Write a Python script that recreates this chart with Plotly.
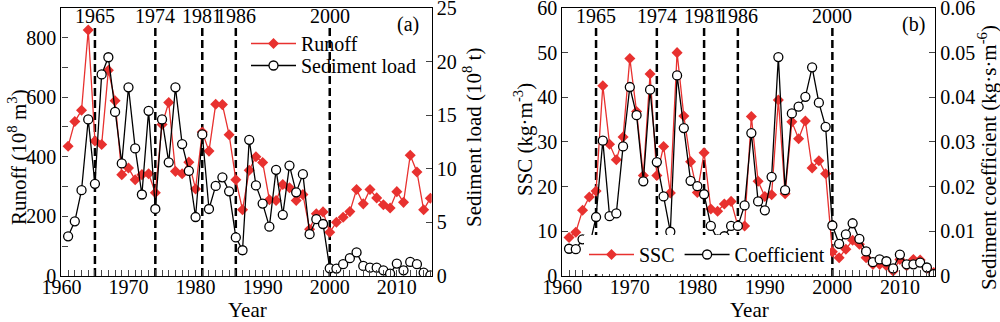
import plotly.graph_objects as go

years = list(range(1961, 2016))

runoff = [435, 518, 556, 825, 453, 441, 690, 588, 340, 362,
          323, 340, 343, 279, 508, 582, 351, 343, 382, 292,
          483, 419, 576, 575, 474, 323, 222, 355, 400, 381,
          256, 253, 307, 296, 253, 273, 157, 209, 215, 147,
          180, 197, 216, 290, 242, 290, 262, 239, 228, 283,
          247, 405, 349, 222, 261]

sediment = [3.7, 5.1, 8.0, 14.6, 8.6, 18.8, 20.4, 15.3, 10.5, 17.6,
            11.9, 7.6, 15.4, 6.25, 14.6, 10.6, 17.6, 12.3, 9.8, 5.5,
            13.2, 6.25, 8.4, 9.2, 7.9, 3.6, 2.4, 12.7, 8.45, 6.75,
            4.6, 9.9, 5.7, 10.3, 7.8, 9.5, 3.9, 5.3, 4.85, 0.72,
            0.69, 1.1, 1.66, 2.2, 0.94, 0.78, 0.78, 0.53, 0.22, 1.16,
            0.53, 1.31, 1.1, 0.31, 0.06]

ssc = [8.6, 9.8, 14.7, 17.7, 19.0, 42.6, 29.5, 26.0, 31.1, 48.7,
       36.8, 22.5, 45.2, 22.5, 29.0, 18.6, 50.0, 35.8, 25.6, 18.7,
       27.6, 15.0, 14.5, 16.1, 16.7, 11.2, 11.2, 35.7, 21.2, 17.8,
       18.2, 39.4, 18.4, 34.5, 30.7, 34.7, 24.2, 25.8, 22.9, 5.4,
       4.1, 6.0, 8.0, 7.1, 4.1, 2.6, 2.6, 2.3, 1.1, 3.7,
       2.3, 3.7, 3.6, 1.7, 0.8]

coefficient = [0.0061, 0.0060, 0.0082, 0.0065, 0.0132, 0.0303, 0.0134, 0.0140, 0.0290, 0.0423,
               0.0360, 0.0212, 0.0417, 0.0255, 0.0178, 0.0099, 0.0449, 0.0331, 0.0213, 0.0201,
               0.0183, 0.0112, 0.0082, 0.0089, 0.0112, 0.0112, 0.0158, 0.0320, 0.0167, 0.0147,
               0.0222, 0.0490, 0.0192, 0.0364, 0.0379, 0.0401, 0.0467, 0.0388, 0.0334, 0.0113,
               0.0072, 0.0093, 0.0118, 0.0083, 0.0055, 0.0031, 0.0037, 0.0033, 0.0017, 0.0048,
               0.0026, 0.0026, 0.0030, 0.0019, 0.0004]

break_years = [1965, 1974, 1981, 1986, 2000]

runoff_ticks = [0, 200, 400, 600, 800]
sediment_ticks = [0, 5, 10, 15, 20, 25]
ssc_ticks = [0, 10, 20, 30, 40, 50, 60]
coef_ticks = [0, 0.01, 0.02, 0.03, 0.04, 0.05, 0.06]
coef_labels = ["0", "0.01", "0.02", "0.03", "0.04", "0.05", "0.06"]

FONT = "Liberation Serif"
RED = "#e8312f"
FS = 20
TFS = 21

fig = go.Figure()

red_line = dict(color=RED, width=1.3)
red_marker = dict(symbol="diamond", size=8.5, color=RED, line=dict(width=0))
blk_line = dict(color="black", width=1.3)
blk_marker = dict(symbol="circle", size=9, color="white", line=dict(color="black", width=1.3))

fig.add_trace(go.Scatter(x=years, y=runoff, name="Runoff", mode="lines+markers",
                         line=red_line, marker=red_marker, xaxis="x", yaxis="y", legend="legend"))
fig.add_trace(go.Scatter(x=years, y=sediment, name="Sediment load", mode="lines+markers",
                         line=blk_line, marker=blk_marker, xaxis="x", yaxis="y2", legend="legend3"))
fig.add_trace(go.Scatter(x=years, y=ssc, name="SSC", mode="lines+markers",
                         line=red_line, marker=red_marker, xaxis="x2", yaxis="y3", legend="legend2"))
fig.add_trace(go.Scatter(x=years, y=coefficient, name="Coefficient", mode="lines+markers",
                         line=blk_line, marker=blk_marker, xaxis="x2", yaxis="y4", legend="legend2"))

ydom = [0.1429, 0.976]
dom_a = [0.0614, 0.4317]
dom_b = [0.5623, 0.935]

common_x = dict(range=[1960, 2015.2], dtick=10, tick0=1960, ticks="inside", ticklen=6,
                tickwidth=1.2, showline=True, linecolor="black", linewidth=1.3, mirror=True,
                showgrid=False, zeroline=False, tickfont=dict(family=FONT, size=FS, color="black"),
                minor=dict(dtick=1, tick0=1960, ticks="inside", ticklen=6, tickwidth=1.2, showgrid=False),
                ticklabelstandoff=-7, ticklabeloverflow="allow", automargin=False)
common_y = dict(ticks="inside", ticklen=6, tickwidth=1.2, showline=True, linecolor="black",
                linewidth=1.3, showgrid=False, zeroline=False, ticklabeloverflow="allow",
                tickfont=dict(family=FONT, size=FS, color="black"), automargin=False)

leg_common = dict(xanchor="left", yanchor="top", font=dict(family=FONT, size=FS, color="black"),
                  itemwidth=45, visible=True)

fig.update_layout(
    width=1000, height=322,
    margin=dict(l=0, r=0, t=0, b=0),
    paper_bgcolor="white", plot_bgcolor="white",
    showlegend=True,
    font=dict(family=FONT, size=FS, color="black"),
    xaxis=dict(domain=dom_a, anchor="y", **common_x),
    yaxis=dict(domain=ydom, anchor="x", range=[0, 900], tickvals=runoff_ticks,
               minor=dict(dtick=100, tick0=0, ticks="inside", ticklen=6, tickwidth=1.2, showgrid=False),
               **common_y),
    yaxis2=dict(overlaying="y", side="right", anchor="x", range=[0, 25.02], tickvals=sediment_ticks,
                **common_y),
    xaxis2=dict(domain=dom_b, anchor="y3", **common_x),
    yaxis3=dict(domain=ydom, anchor="x2", range=[0, 60.05], tickvals=ssc_ticks, **common_y),
    yaxis4=dict(overlaying="y3", side="right", anchor="x2", range=[0, 0.06005],
                tickvals=coef_ticks, ticktext=coef_labels, **common_y),
    legend=dict(x=0.246, y=(322 - 24) / 322, bgcolor="rgba(255,255,255,0)", **leg_common),
    legend3=dict(x=0.246, y=(322 - 46) / 322, bgcolor="rgba(255,255,255,0)", **leg_common),
    legend2=dict(x=0.584, y=(322 - 235) / 322, orientation="h", bgcolor="white", **leg_common),
)

# dashed period lines and labels
for xa, ya in (("x", "y"), ("x2", "y3")):
    for yr in break_years:
        fig.add_shape(type="line", xref=xa, yref=f"{ya} domain", x0=yr, x1=yr, y0=0, y1=0.928,
                      line=dict(color="black", width=2.5, dash="8px,4px"), layer="below")
        fig.add_annotation(x=yr, y=0.969, xref=xa, yref=f"{ya} domain", text=str(yr),
                           showarrow=False, font=dict(family=FONT, size=FS, color="black"),
                           xanchor="center", yanchor="middle")

# panel labels
fig.add_annotation(x=408 / 1000, y=(322 - 25) / 322, xref="paper", yref="paper", text="(a)",
                   showarrow=False, font=dict(family=FONT, size=FS), xanchor="center", yanchor="middle")
fig.add_annotation(x=913 / 1000, y=(322 - 25) / 322, xref="paper", yref="paper", text="(b)",
                   showarrow=False, font=dict(family=FONT, size=FS), xanchor="center", yanchor="middle")

# axis titles
def title(x, y, text, angle=0):
    fig.add_annotation(x=x / 1000, y=(322 - y) / 322, xref="paper", yref="paper", text=text,
                       showarrow=False, textangle=angle, font=dict(family=FONT, size=TFS, color="black"),
                       xanchor="center", yanchor="middle")

title(17, 157, "Runoff (10<sup>8</sup> m<sup>3</sup>)", -90)
title(472, 138, "Sediment load (10<sup>8</sup> t)", -90)
title(247, 310, "Year")
title(523, 140, "SSC (kg·m<sup>-3</sup>)", -90)
title(987, 158, "Sediment coefficient (kg·s·m<sup>-6</sup>)", -90)
title(749, 310, "Year")

fig.write_html("out.html")
